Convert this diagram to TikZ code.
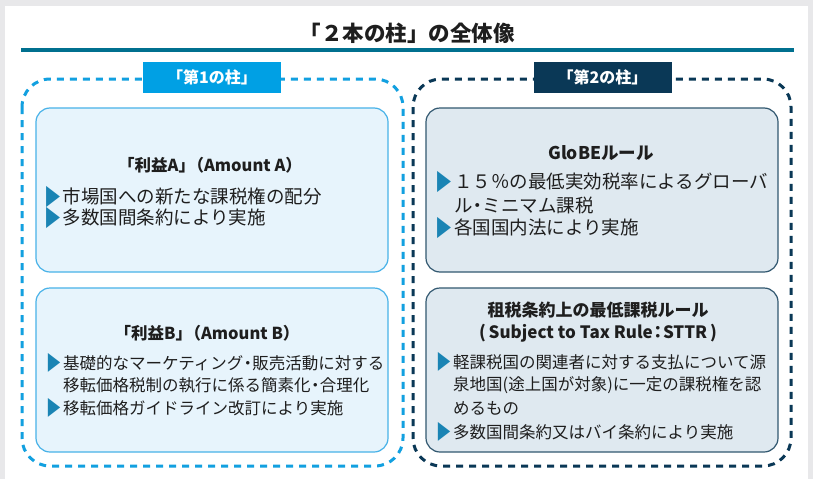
\documentclass[tikz,border=0pt]{standalone}
\usepackage{fontspec}
\usepackage{graphicx}
\setmainfont{Noto Sans CJK JP}
\definecolor{panelgray}{RGB}{232,232,234}
\definecolor{teal}{RGB}{0,112,143}
\definecolor{skyline}{RGB}{18,160,224}
\definecolor{skyfill}{RGB}{0,160,228}
\definecolor{navy}{RGB}{10,56,86}
\definecolor{boxLfill}{RGB}{231,244,252}
\definecolor{boxLline}{RGB}{72,178,232}
\definecolor{boxRfill}{RGB}{223,233,240}
\definecolor{boxRline}{RGB}{50,88,112}
\definecolor{tri}{RGB}{26,132,180}
\definecolor{ink}{RGB}{30,30,30}
\begin{document}
\begin{tikzpicture}[x=1pt,y=-1pt,
  pillarL/.style={draw=skyline,line width=3pt,dash pattern=on 7pt off 6pt,rounded corners=28pt},
  pillarR/.style={draw=navy,line width=3pt,dash pattern=on 7pt off 6pt,rounded corners=28pt},
  tag/.style={minimum width=138pt,minimum height=31pt,inner sep=0,text=white,font=\bfseries\fontsize{16}{18}\selectfont},
  boxL/.style={draw=boxLline,fill=boxLfill,line width=1.2pt,rounded corners=14pt,minimum width=352pt,minimum height=164pt,inner sep=0},
  boxR/.style={draw=boxRline,fill=boxRfill,line width=1.2pt,rounded corners=14pt,minimum width=352pt,minimum height=164pt,inner sep=0},
  ttl/.style={inner sep=0,text=ink,font=\bfseries\fontsize{16.5}{20}\selectfont},
  bigline/.style={anchor=west,inner sep=0,text=ink,font=\fontsize{18.5}{21}\selectfont},
  smallline/.style={anchor=west,inner sep=0,text=ink,font=\fontsize{16.5}{19}\selectfont}
]
\newcommand{\tb}{\makebox[1em][c]{\hspace{-0.08em}\raisebox{-0.09em}{\textcolor{tri}{\scalebox{0.92}[1.22]{▶}}}}}
\newcommand{\nd}{\makebox[0.55em][c]{・}}
\useasboundingbox (0,0) rectangle (813,479);
\fill[panelgray] (0,0) rectangle (813,479);
\fill[white] (5,6) rectangle (808,479);
% title
\node[inner sep=0,text=ink,font=\bfseries\fontsize{21.5}{24}\selectfont] (title) at (407,33) {「２本の柱」の全体像};
\draw[teal,line width=4pt] (21,50) coordinate (rulel) -- (794,50) coordinate (ruler);
% pillars
\draw[pillarL] (22,79) rectangle (403,466);
\draw[pillarR] (413,79) rectangle (791,466);
\node[tag,fill=skyfill] (tag1) at (212,77.5) {「第1の柱」};
\node[tag,fill=navy] (tag2) at (602.5,77.5) {「第2の柱」};
% boxes
\node[boxL] (boxA) at (212,190) {};
\node[boxL] (boxB) at (212,370) {};
\node[boxR] (boxG) at (602,190) {};
\node[boxR] (boxS) at (602,370) {};
% box A
\node[ttl] (tA) at (210,165) {「利益A」\hspace{-0.45em}（Amount A）};
\node[bigline] (a1) at (44,197) {\tb 市場国への新たな課税権の配分};
\node[bigline] (a2) at (44,218) {\tb 多数国間条約により実施};
% box B
\node[ttl] (tB) at (207,333) {「利益B」\hspace{-0.45em}（Amount B）};
\node[smallline] (b1) at (46.5,363) {\tb 基礎的なマーケティング\nd 販売活動に対する};
\node[smallline] (b2) at (63,385) {移転価格税制の執行に係る簡素化\nd 合理化};
\node[smallline] (b3) at (46.5,408) {\tb 移転価格ガイドライン改訂により実施};
% box G
\node[ttl,font=\bfseries\fontsize{17.5}{20}\selectfont] (tG) at (601,153) {GloBEルール};
\node[bigline] (g1) at (435.5,182) {\tb １５％の最低実効税率によるグローバ};
\node[bigline] (g2) at (454,205) {ル\nd ミニマム課税};
\node[bigline] (g3) at (435.5,228) {\tb 各国国内法により実施};
% box S
\node[ttl,font=\bfseries\fontsize{17}{20}\selectfont] (tS1) at (598,310) {租税条約上の最低課税ルール};
\node[ttl,font=\bfseries\fontsize{17}{20}\selectfont] (tS2) at (598,333) {(\,Subject to Tax Rule\makebox[0.6em][c]{：}STTR\,)};
\node[smallline] (s1) at (436.5,362) {\tb 軽課税国の関連者に対する支払について源};
\node[smallline] (s2) at (453,385) {泉地国(途上国が対象)に一定の課税権を認};
\node[smallline] (s3) at (453,408) {めるもの};
\node[smallline] (s4) at (436.5,432) {\tb 多数国間条約又はバイ条約により実施};
\end{tikzpicture}
\end{document}
